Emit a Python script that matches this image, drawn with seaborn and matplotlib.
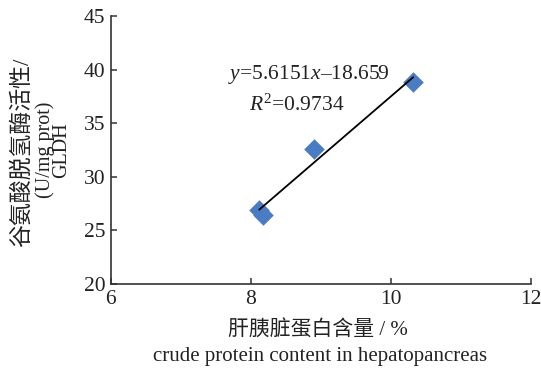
import matplotlib
matplotlib.use("Agg")
import matplotlib.pyplot as plt
import seaborn as sns
import numpy as np
import pandas as pd

# data
protein = [8.12, 8.18, 8.90, 10.32]
gldh = [26.9, 26.4, 32.6, 38.8]
slope = 5.6151
intercept = -18.659
r2 = 0.9734
xticks = [6, 8, 10, 12]
yticks = [20, 25, 30, 35, 40, 45]

sns.set_theme(style="white")
plt.rcParams['font.family'] = ['Liberation Serif', 'Noto Sans CJK SC']
plt.rcParams['mathtext.fontset'] = 'custom'
plt.rcParams['mathtext.rm'] = 'Liberation Serif'
plt.rcParams['mathtext.it'] = 'Liberation Serif:italic'

W, H = 541, 369
fig = plt.figure(figsize=(W / 100, H / 100), dpi=100)
ax = fig.add_axes([0.205, 0.2304, 0.776, 0.7262])

df = pd.DataFrame({"x": protein, "y": gldh})
sns.scatterplot(data=df, x="x", y="y", marker="D", s=110, color="#4a7cc4",
                edgecolor="#4a7cc4", linewidth=0, ax=ax, zorder=2)

fx = np.array([min(protein), max(protein)])
fit = pd.DataFrame({"x": fx, "y": slope * fx + intercept})
sns.lineplot(data=fit, x="x", y="y", color="black", linewidth=1.3, ax=ax, zorder=3)

ax.set_xlim(6, 12)
ax.set_ylim(20, 45)
ax.set_xticks(xticks)
ax.set_yticks(yticks)
ax.set_xticklabels([str(t) for t in xticks], fontsize=15.5, color="#222222")
ax.set_yticklabels([str(t) for t in yticks], fontsize=15.5, color="#222222")
ax.tick_params(direction="in", length=4, width=1.1, color="#333333", pad=4,
               bottom=True, left=True)
for s in ["top", "right"]:
    ax.spines[s].set_visible(False)
for s in ["left", "bottom"]:
    ax.spines[s].set_color("#333333")
    ax.spines[s].set_linewidth(1.2)
ax.set_xlabel("")
ax.set_ylabel("")

# x label (two lines)
fig.text(318 / W, 1 - 331 / H, "肝胰脏蛋白含量 / %", fontsize=15, ha="center",
         va="center", color="#222222")
fig.text(320 / W, 1 - 356 / H, "crude protein content in hepatopancreas",
         fontsize=15, ha="center", va="center", color="#222222")

# y label (rotated)
fig.text(22 / W, 1 - 152 / H, "谷氨酸脱氢酶活性/", fontsize=16.5, rotation=90,
         ha="center", va="center", color="#222222")
fig.text(53 / W, 1 - 150 / H, "(U/mg prot)\nGLDH", fontsize=14.5, rotation=90,
         ha="center", va="center", multialignment="center", linespacing=0.78,
         color="#222222")

ax.text(8.82, 39.5, r"$y$=5.6151$x$–18.659", fontsize=15.5, ha="center",
        va="center", color="#222222")
ax.text(8.65, 36.7, r"$R^{2}$=0.9734", fontsize=15.5, ha="center",
        va="center", color="#222222")

fig.savefig("out.png", dpi=100)
